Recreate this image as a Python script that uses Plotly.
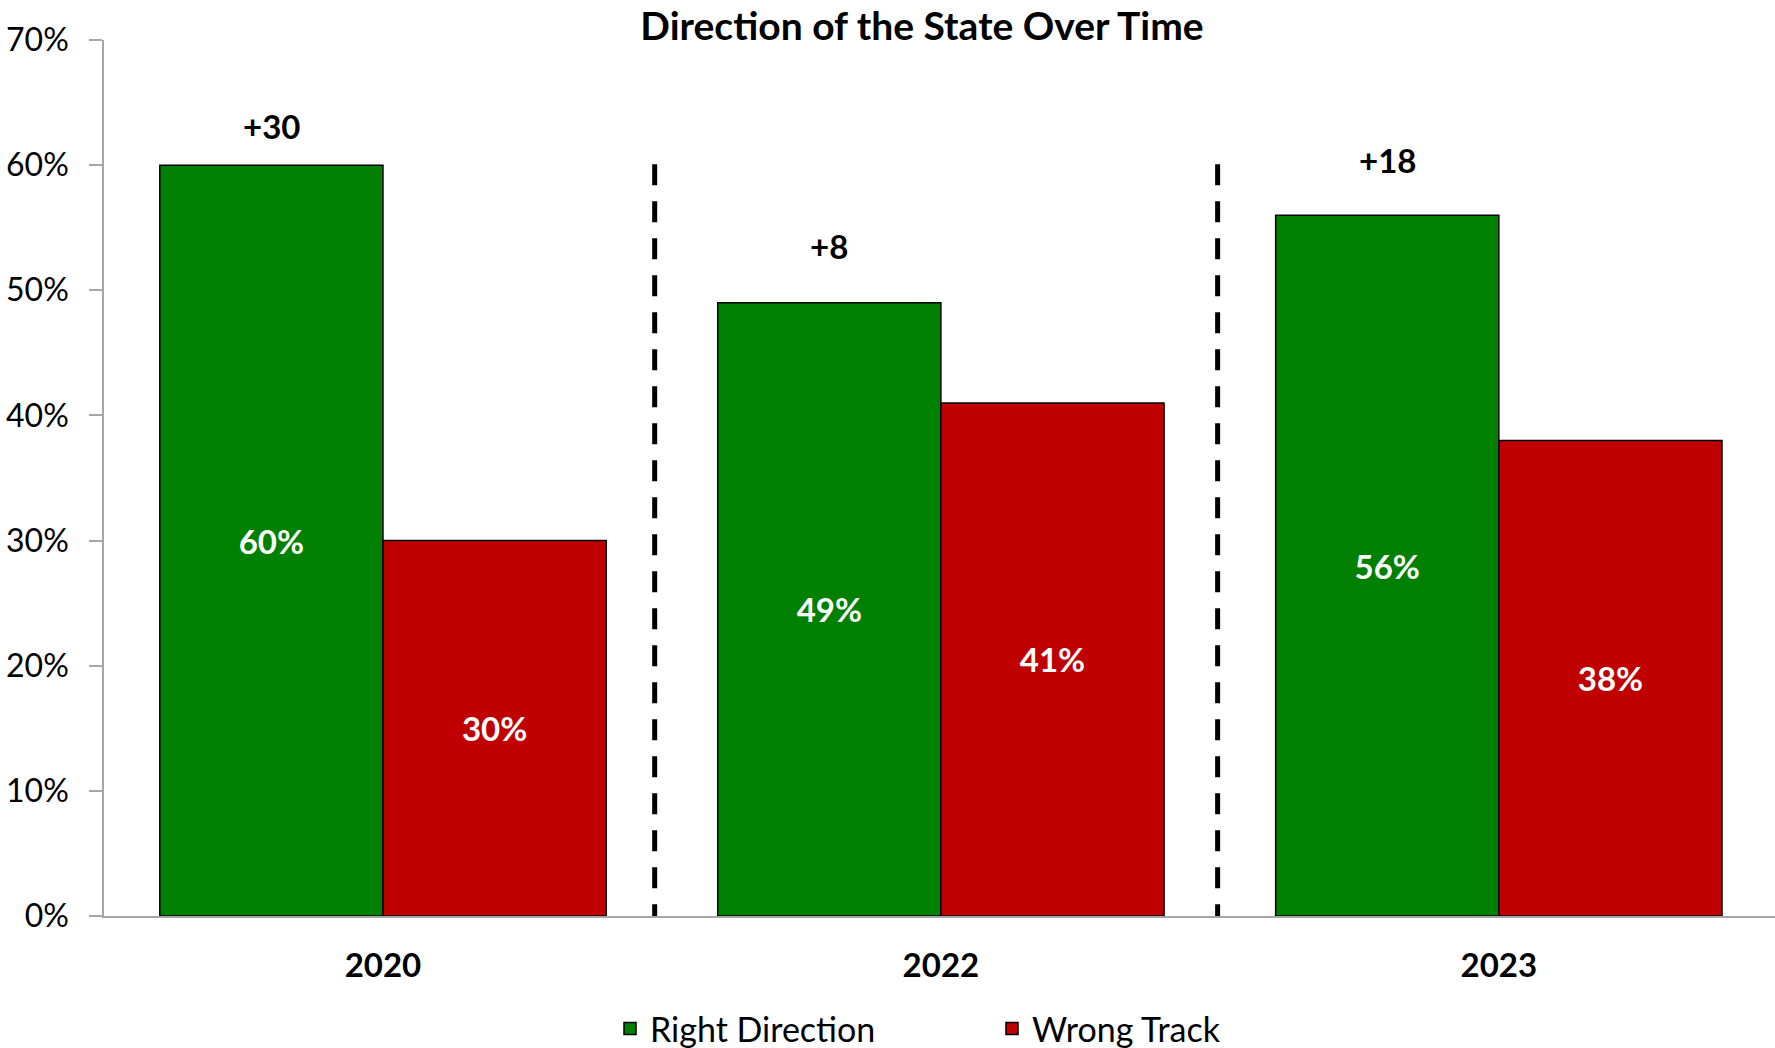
import plotly.graph_objects as go

years = ["2020", "2022", "2023"]
right_direction = [60, 49, 56]
wrong_track = [30, 41, 38]
net_labels = ["+30", "+8", "+18"]

FONT = "Lato"
GREEN = "#008000"
RED = "#C00000"

fig = go.Figure()
fig.add_trace(go.Bar(
    x=years, y=right_direction, name="Right Direction",
    marker=dict(color=GREEN, line=dict(color="black", width=1.5)),
    text=[f"{v}%" for v in right_direction], textposition="inside",
    insidetextanchor="middle",
    textfont=dict(family=FONT, size=33, color="white", weight="bold"),
))
fig.add_trace(go.Bar(
    x=years, y=wrong_track, name="Wrong Track",
    marker=dict(color=RED, line=dict(color="black", width=1.5)),
    text=[f"{v}%" for v in wrong_track], textposition="inside",
    insidetextanchor="middle",
    textfont=dict(family=FONT, size=33, color="white", weight="bold"),
))

# net labels above the green bars
label_lift = [3.1, 4.5, 4.4]
for i, (lab, v) in enumerate(zip(net_labels, right_direction)):
    fig.add_annotation(x=i - 0.2, y=v + label_lift[i], xref="x", yref="y",
                       text=lab, showarrow=False,
                       font=dict(family=FONT, size=33, color="black", weight="bold"))

# dashed separators
for xs in [0.487, 1.496]:
    fig.add_shape(type="line", xref="x", yref="y", x0=xs, x1=xs, y0=-3.7, y1=60.3,
                  line=dict(color="black", width=5, dash="21px,16px"))

fig.update_layout(
    width=1775, height=1048,
    margin=dict(l=104, r=0, t=40, b=132),
    plot_bgcolor="white", paper_bgcolor="white",
    barmode="group", bargap=0.2, bargroupgap=0,
    title=dict(text="Direction of the State Over Time", x=922 / 1775, xref="container",
               xanchor="center", y=1 - 26 / 1048, yref="container", yanchor="middle",
               font=dict(family=FONT, size=39, color="black", weight="bold")),
    font=dict(family=FONT, color="black"),
    xaxis=dict(range=[-0.5, 2.495], showline=True, linecolor="#A6A6A6", linewidth=1.5,
               ticks="", tickfont=dict(family=FONT, size=33, color="black", weight="bold"),
               ticklabelstandoff=20, showgrid=False, zeroline=False),
    yaxis=dict(range=[0, 70], dtick=10, ticksuffix="%", showline=True,
               linecolor="#A6A6A6", linewidth=1.5, ticks="outside", ticklen=13,
               tickcolor="#A6A6A6", tickwidth=1.5,
               tickfont=dict(family=FONT, size=32, color="black"),
               ticklabelstandoff=14, showgrid=False, zeroline=False),
    legend=dict(orientation="h", xref="container", yref="container",
                x=610 / 1775, xanchor="left", y=1 - 1029 / 1048, yanchor="middle",
                entrywidth=337, font=dict(family=FONT, size=34, color="black"),
                traceorder="normal"),
    showlegend=True,
)

fig.write_html("out.html", config={"displayModeBar": False},
               post_script="document.body.style.margin='0';document.body.style.overflow='hidden';")
